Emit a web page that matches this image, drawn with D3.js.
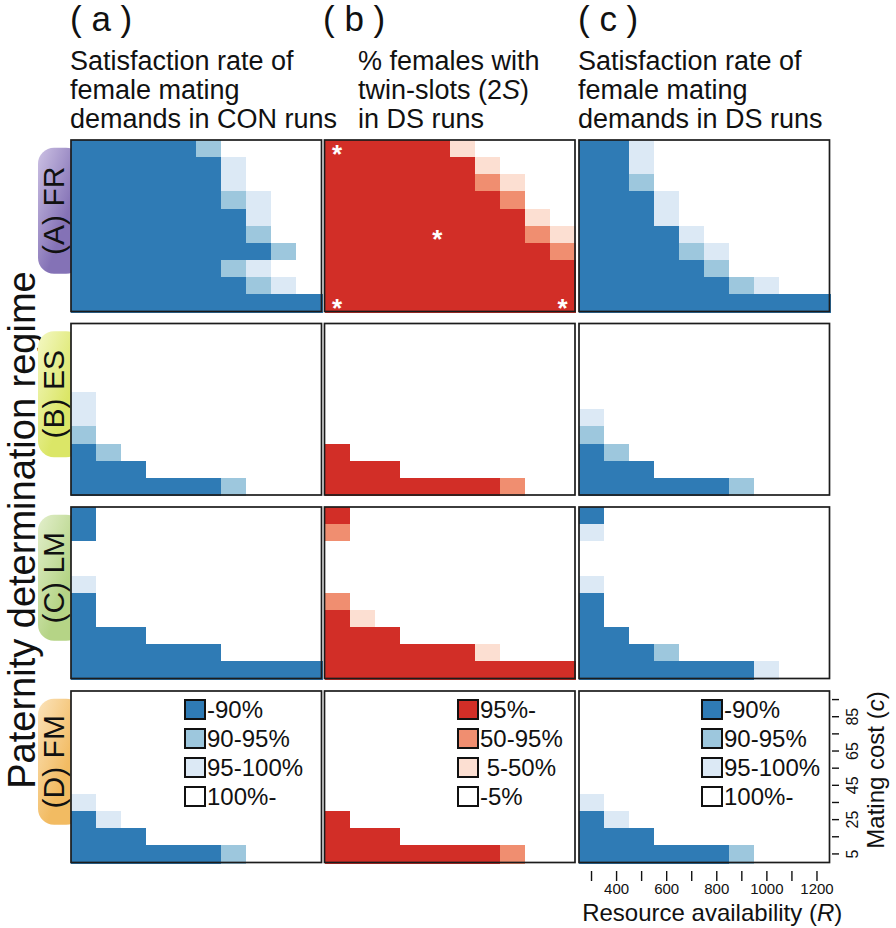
<!DOCTYPE html>
<html><head><meta charset="utf-8">
<script src="https://cdn.jsdelivr.net/npm/d3@7"></script>
<style>
body{margin:0;background:#fff}
svg{display:block}
text{font-family:"Liberation Sans",Arial,Helvetica,sans-serif}
</style>
</head><body>
<svg id="chart" width="896" height="928"></svg>
<script>
// ---------------- data ----------------
const resources   = [300,400,500,600,700,800,900,1000,1100,1200];   // columns (R)
const matingCosts = [95,85,75,65,55,45,35,25,15,5];                  // rows, top -> bottom (c)
const xTickLabels = [400,600,800,1000,1200];
const yTickLabels = [5,25,45,65,85];
const regimes = ["(A) FR","(B) ES","(C) LM","(D) FM"];
const columnLetters = ["( a )","( b )","( c )"];
const columnTitles = [
  ["Satisfaction rate of","female mating","demands in CON runs"],
  ["% females with","twin-slots (2*S*)","in DS runs"],
  ["Satisfaction rate of","female mating","demands in DS runs"]
];
const satLegend  = ["-90%","90-95%","95-100%","100%-"];
const twinLegend = ["95%-","50-95%"," 5-50%","-5%"];
// class index per cell: 0 darkest ... 3 white ; rows c=95 (top) to c=5 (bottom)
const FR_CON  = ["0000013333","0000002333","0000002333","0000001233","0000000233","0000000133","0000000013","0000001233","0000000123","0000000000"];
const FR_TWIN = ["0000023333","0000002333","0000001233","0000000133","0000000023","0000000012","0000000001","0000000000","0000000000","0000000000"];
const FR_DS   = ["0023333333","0023333333","0013333333","0002333333","0002333333","0000233333","0000123333","0000013333","0000001233","0000000000"];
const ES_CON  = ["3333333333","3333333333","3333333333","3333333333","2333333333","2333333333","1333333333","0133333333","0003333333","0000001333"];
const ES_TWIN = ["3333333333","3333333333","3333333333","3333333333","3333333333","3333333333","3333333333","0333333333","0003333333","0000000133"];
const ES_DS   = ["3333333333","3333333333","3333333333","3333333333","3333333333","2333333333","1333333333","0133333333","0003333333","0000001333"];
const LM_CON  = ["0333333333","0333333333","3333333333","3333333333","2333333333","0333333333","0333333333","0003333333","0000003333","0000000000"];
const LM_TWIN = ["0333333333","1333333333","3333333333","3333333333","3333333333","1333333333","0233333333","0003333333","0000002333","0000000000"];
const LM_DS   = ["0333333333","2333333333","3333333333","3333333333","2333333333","0333333333","0333333333","0033333333","0001333333","0000000233"];
const FM_CON  = ["3333333333","3333333333","3333333333","3333333333","3333333333","3333333333","2333333333","0233333333","0003333333","0000001333"];
const FM_TWIN = ["3333333333","3333333333","3333333333","3333333333","3333333333","3333333333","3333333333","0333333333","0003333333","0000000133"];
const FM_DS   = ["3333333333","3333333333","3333333333","3333333333","3333333333","3333333333","2333333333","0233333333","0003333333","0000001333"];
const asteriskCells = [[300,95],[700,45],[300,5],[1200,5]];   // (R, c) in FR twin-slot panel

const blues = ["#2f7bb5","#9dc7dd","#dce9f5","#ffffff"];
const reds  = ["#d22e27","#f08e70","#fcdfd2","#ffffff"];
const pillColors = [["#cdc2e4","#8472b6"],["#f4f8c4","#dbe667"],["#e3efcc","#b5d486"],["#fbe3bb","#f2bb62"]];

// ---------------- layout ----------------
const colX = [71, 324.5, 579], panelW = 250.5;
const titleX = [70, 358, 578], letterX = [70, 323, 578];
const rowY = [140, 323.5, 507, 691], panelH = 171.5;
const legendBoxX = [114, 133.5, 123];

const panels = [
  [FR_CON, FR_TWIN, FR_DS],
  [ES_CON, ES_TWIN, ES_DS],
  [LM_CON, LM_TWIN, LM_DS],
  [FM_CON, FM_TWIN, FM_DS]
];
const palettes = [blues, reds, blues];

const svg = d3.select("#chart");
const defs = svg.append("defs");

function richText(sel, str) {
  // *x* marks italic parts
  str.split(/(\*[^*]+\*)/).filter(s => s.length).forEach(part => {
    if (part.startsWith("*")) sel.append("tspan").attr("font-style","italic").text(part.slice(1,-1));
    else sel.append("tspan").text(part);
  });
  return sel;
}

// ---- column headers ----
columnLetters.forEach((L, c) => {
  svg.append("text").attr("x", letterX[c]).attr("y", 31).attr("font-size", 35)
    .style("white-space","pre").attr("fill","#111").text(L);
  columnTitles[c].forEach((line, i) => {
    richText(svg.append("text").attr("x", titleX[c]).attr("y", 70 + i*29)
      .attr("font-size", 27).attr("fill","#111"), line);
  });
});

// ---- left title ----
svg.append("text").attr("transform","translate(35,530) rotate(-90)")
  .attr("text-anchor","middle").attr("font-size",38).attr("fill","#111")
  .text("Paternity determination regime");

// ---- regime pills ----
regimes.forEach((name, r) => {
  const gid = "pill"+r;
  const grad = defs.append("linearGradient").attr("id", gid)
    .attr("x1","0").attr("y1","0").attr("x2","1").attr("y2","1");
  grad.append("stop").attr("offset","0").attr("stop-color", pillColors[r][0]);
  grad.append("stop").attr("offset","0.6").attr("stop-color", pillColors[r][1]);
  const cy = rowY[r] + panelH/2 - 15;
  svg.append("rect").attr("x",38).attr("y",cy-63).attr("width",44).attr("height",126)
    .attr("rx",16).attr("fill",`url(#${gid})`);
  svg.append("text").attr("transform",`translate(64,${cy}) rotate(-90)`)
    .attr("text-anchor","middle").attr("font-size",30).attr("fill","#111").text(name);
});

// ---- panels ----
panels.forEach((rowMats, r) => {
  rowMats.forEach((mat, c) => {
    const x = d3.scaleBand().domain(resources).range([colX[c], colX[c]+panelW]);
    const y = d3.scaleBand().domain(matingCosts).range([rowY[r], rowY[r]+panelH]);
    const pal = palettes[c];
    const cells = [];
    mat.forEach((rowStr, i) => rowStr.split("").forEach((ch, j) =>
      cells.push({R: resources[j], c: matingCosts[i], k: +ch})));
    const g = svg.append("g");
    g.append("rect").attr("x",colX[c]).attr("y",rowY[r]).attr("width",panelW).attr("height",panelH).attr("fill","#fff");
    g.selectAll("rect.cell").data(cells).join("rect").attr("class","cell")
      .attr("x", d => x(d.R)).attr("y", d => y(d.c))
      .attr("width", x.bandwidth()+1).attr("height", y.bandwidth()+1)
      .attr("shape-rendering","crispEdges")
      .attr("fill", d => pal[d.k]);

    if (r === 0 && c === 1) {
      g.selectAll("text.ast").data(asteriskCells).join("text").attr("class","ast")
        .attr("x", d => x(d[0]) + x.bandwidth()/2)
        .attr("y", d => y(d[1]) + y.bandwidth()/2 + 14)
        .attr("text-anchor","middle").attr("font-size",26).attr("font-weight","bold")
        .attr("fill","#fff").text("*");
    }

    if (r === 3) {
      const labels = c === 1 ? twinLegend : satLegend;
      const lg = g.append("g");
      labels.forEach((lab, i) => {
        const cy = rowY[r] + 18.5 + i*29;
        lg.append("rect").attr("x", colX[c]+legendBoxX[c]).attr("y", cy-9.5)
          .attr("width",20).attr("height",19).attr("fill", pal[i])
          .attr("stroke","#111").attr("stroke-width",2);
        lg.append("text").attr("x", colX[c]+legendBoxX[c]+22).attr("y", cy+8.5)
          .attr("font-size",24).attr("fill","#111").style("white-space","pre").text(lab);
      });
    }

    g.append("rect").attr("x",colX[c]).attr("y",rowY[r]).attr("width",panelW).attr("height",panelH)
      .attr("fill","none").attr("stroke","#1c1c1c").attr("stroke-width",1.7);

    if (r === 3 && c === 2) {
      // bottom axis
      const ax = g.append("g").attr("transform",`translate(0,871)`)
        .call(d3.axisBottom(x).tickValues(resources).tickSize(10).tickPadding(2)
          .tickFormat(d => xTickLabels.includes(d) ? d : ""));
      ax.select(".domain").remove();
      ax.selectAll(".tick text").filter(function(){ return this.textContent === ""; }).remove();
      ax.selectAll("line").attr("stroke","#111").attr("stroke-width",1.4);
      ax.selectAll("text").attr("font-size",15).attr("fill","#111")
        .attr("font-family",'"Liberation Sans",Arial,sans-serif');
      richText(g.append("text").attr("x", colX[c]+panelW/2+8).attr("y",921)
        .attr("text-anchor","middle").attr("font-size",24).attr("fill","#111"),
        "Resource availability (*R*)");
      // right axis
      const ay = g.append("g").attr("transform",`translate(832,0)`)
        .call(d3.axisRight(y).tickValues(matingCosts).tickSize(7)
          .tickFormat(d => yTickLabels.includes(d) ? d : ""));
      ay.select(".domain").remove();
      ay.selectAll(".tick text").filter(function(){ return this.textContent === ""; }).remove();
      ay.selectAll("line").attr("stroke","#111").attr("stroke-width",1.4);
      ay.selectAll("text").attr("x",null).attr("dy",null)
        .attr("transform","translate(26,0) rotate(-90)").attr("text-anchor","middle")
        .attr("font-size",16).attr("fill","#111")
        .attr("font-family",'"Liberation Sans",Arial,sans-serif');
      richText(g.append("text").attr("transform",`translate(884,770) rotate(-90)`)
        .attr("text-anchor","middle").attr("font-size",24).attr("fill","#111"),
        "Mating cost (*c*)");
    }
  });
});
</script>
</body></html>
